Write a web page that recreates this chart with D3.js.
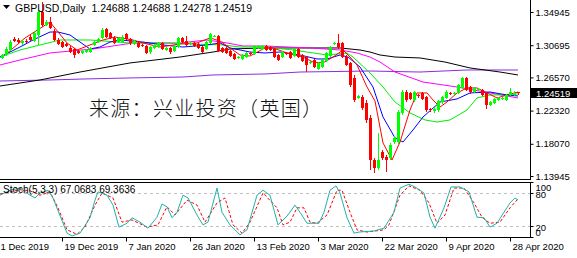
<!DOCTYPE html>
<html>
<head>
<meta charset="utf-8">
<script src="https://cdn.jsdelivr.net/npm/d3@7"></script>
<style>
body { margin: 0; background: #fff; }
svg { display: block; font-family: "Liberation Sans", Arial, sans-serif; }
</style>
</head>
<body>
<div id="chart"></div>
<script>
// GBPUSD daily candles, bar 1..130
var opens = [
1.2906,1.2944,1.3008,1.3149,1.3136,1.3098,1.3123,1.3174,1.3123,1.3200,
1.3494,1.3328,1.3366,1.3251,1.3136,1.3110,1.3085,1.3034,1.3021,1.2995,
1.2970,1.2982,1.2982,1.3072,1.3110,1.3162,1.3277,1.3226,1.3162,1.3110,
1.3110,1.3213,1.3149,1.3085,1.3098,1.3072,1.3059,1.2982,1.3034,1.3046,
1.3098,1.3008,1.3034,1.2995,1.3046,1.3162,1.3123,1.3085,1.3098,1.3085,
1.3046,1.3021,1.3098,1.3174,1.3187,1.3034,1.3034,1.2995,1.2957,1.2906,
1.2893,1.2918,1.2970,1.2957,1.3034,1.3021,1.3059,1.3046,1.3021,1.2944,
1.2918,1.2970,1.2982,1.2931,1.3021,1.2944,1.2918,1.2842,1.2880,1.2765,
1.2790,1.2867,1.2931,1.3085,1.3098,1.3098,1.2918,1.2842,1.2650,1.2394,
1.2406,1.2330,1.2138,1.1600,1.1498,1.1702,1.1638,1.1626,1.1830,1.1830,
1.2202,1.2470,1.2458,1.2368,1.2432,1.2458,1.2406,1.2253,1.2227,1.2240,
1.2342,1.2394,1.2458,1.2445,1.2458,1.2522,1.2650,1.2534,1.2470,1.2496,
1.2496,1.2458,1.2304,1.2330,1.2368,1.2381,1.2368,1.2432,1.2432,1.24688];
var highs = [
1.2957,1.3046,1.3136,1.3174,1.3162,1.3136,1.3149,1.3200,1.3251,1.3520,
1.3622,1.3392,1.3430,1.3277,1.3162,1.3123,1.3098,1.3059,1.3034,1.3008,
1.3008,1.3021,1.3046,1.3123,1.3162,1.3290,1.3290,1.3238,1.3187,1.3174,
1.3200,1.3226,1.3162,1.3136,1.3110,1.3085,1.3072,1.3059,1.3085,1.3110,
1.3110,1.3046,1.3046,1.3072,1.3174,1.3174,1.3187,1.3110,1.3110,1.3098,
1.3059,1.3123,1.3226,1.3200,1.3200,1.3046,1.3046,1.3008,1.2970,1.2931,
1.2957,1.2982,1.2982,1.3072,1.3072,1.3072,1.3072,1.3059,1.3034,1.2957,
1.2995,1.2982,1.2995,1.3034,1.3034,1.2957,1.2931,1.2867,1.2893,1.2854,
1.2893,1.2982,1.3059,1.3110,1.3213,1.3110,1.2944,1.2854,1.2688,1.2432,
1.2432,1.2368,1.2176,1.1626,1.1946,1.1728,1.1664,1.1818,1.1907,1.2240,
1.2496,1.2496,1.2470,1.2483,1.2445,1.2470,1.2419,1.2266,1.2278,1.2368,
1.2419,1.2496,1.2470,1.2470,1.2573,1.2662,1.2662,1.2547,1.2534,1.2522,
1.2509,1.2470,1.2355,1.2394,1.2406,1.2406,1.2445,1.2522,1.2483,1.24688];
var lows = [
1.2893,1.2931,1.2995,1.3110,1.3085,1.3072,1.3098,1.3123,1.3110,1.3072,
1.3302,1.3315,1.3277,1.3123,1.3072,1.3034,1.3046,1.2970,1.2906,1.2957,
1.2957,1.2970,1.2970,1.3059,1.3098,1.3149,1.3162,1.3149,1.3085,1.3098,
1.3098,1.3136,1.3072,1.3072,1.3034,1.3046,1.2957,1.2957,1.3021,1.3034,
1.3008,1.2995,1.2957,1.2982,1.3034,1.3098,1.3059,1.3072,1.3046,1.3021,
1.2970,1.3008,1.3085,1.3168,1.2982,1.2970,1.2957,1.2918,1.2880,1.2893,
1.2880,1.2906,1.2944,1.2944,1.3021,1.3008,1.2995,1.2995,1.2906,1.2867,
1.2906,1.2944,1.2893,1.2918,1.2906,1.2854,1.2726,1.2829,1.2778,1.2752,
1.2778,1.2854,1.2918,1.3072,1.3021,1.2906,1.2803,1.2534,1.2342,1.2381,
1.2240,1.2074,1.1472,1.1434,1.1472,1.1600,1.1446,1.1600,1.1805,1.1805,
1.2176,1.2342,1.2368,1.2342,1.2394,1.2368,1.2214,1.2214,1.2202,1.2214,
1.2317,1.2381,1.2432,1.2432,1.2445,1.2509,1.2483,1.2445,1.2458,1.2483,
1.2419,1.2253,1.2291,1.2317,1.2355,1.2368,1.2355,1.2419,1.2419,1.24278];
var closes = [
1.2944,1.3021,1.3110,1.3123,1.3110,1.3123,1.3110,1.3136,1.3226,1.3494,
1.3328,1.3366,1.3290,1.3136,1.3085,1.3046,1.3059,1.2982,1.2944,1.2970,
1.2995,1.3008,1.3034,1.3110,1.3149,1.3264,1.3174,1.3162,1.3098,1.3162,
1.3174,1.3149,1.3098,1.3123,1.3046,1.3059,1.2970,1.3046,1.3072,1.3098,
1.3021,1.3034,1.2982,1.3059,1.3162,1.3110,1.3072,1.3098,1.3059,1.3034,
1.2982,1.3110,1.3213,1.3187,1.2995,1.2982,1.2970,1.2931,1.2893,1.2918,
1.2944,1.2970,1.2957,1.3059,1.3059,1.3059,1.3008,1.3008,1.2918,1.2880,
1.2982,1.2957,1.2906,1.3021,1.2918,1.2867,1.2816,1.2854,1.2790,1.2842,
1.2880,1.2970,1.3046,1.3098,1.3046,1.2918,1.2816,1.2560,1.2368,1.2419,
1.2266,1.2112,1.1600,1.1498,1.1600,1.1626,1.1600,1.1792,1.1882,1.2214,
1.2470,1.2368,1.2381,1.2470,1.2419,1.2381,1.2240,1.2240,1.2253,1.2355,
1.2406,1.2470,1.2445,1.2458,1.2560,1.2650,1.2496,1.2470,1.2522,1.2509,
1.2432,1.2304,1.2342,1.2381,1.2394,1.2394,1.2432,1.2470,1.2458,1.24519];

// moving averages, [bar, price]
var maRed = [[1.75,1.2944],[6.75,1.3162],[13,1.3366],[17.25,1.3098],[19.75,1.3008],[26.25,1.3136],[29.25,1.3174],[33.75,1.3136],[36.25,1.3098],[40.5,1.3046],[45.5,1.3085],[49.75,1.3098],[53,1.3162],[55.5,1.3123],[58,1.3034],[60.5,1.2944],[63,1.2931],[66.75,1.3034],[68.75,1.3034],[72.25,1.2970],[76.25,1.2918],[78.75,1.2854],[81.25,1.2842],[83.75,1.2918],[86.25,1.3008],[88,1.2918],[89.75,1.2816],[92.25,1.2534],[94.25,1.2355],[96.25,1.1818],[98.5,1.1600],[100.5,1.1830],[103,1.2240],[104.75,1.2458],[107.25,1.2458],[108.75,1.2368],[110.5,1.2278],[112.25,1.2342],[114.75,1.2458],[117.25,1.2522],[119.75,1.2522],[122.25,1.2458],[124.75,1.2394],[127.25,1.2432],[130,1.2470]];
var maBlue = [[0.5,1.2918],[5.5,1.3046],[8.75,1.3136],[13,1.3238],[15,1.3238],[18,1.3200],[20.5,1.3110],[23,1.3021],[25.5,1.3046],[28,1.3110],[30.5,1.3136],[36.25,1.3110],[41.25,1.3072],[46.25,1.3046],[52.25,1.3072],[55.5,1.3098],[58,1.3034],[60.5,1.3008],[63,1.2982],[66.75,1.2970],[70.5,1.2982],[75.5,1.2944],[79.75,1.2893],[82.25,1.2893],[85.5,1.2944],[87.5,1.2918],[90.5,1.2790],[93.75,1.2534],[96.25,1.2150],[99.25,1.1882],[101.25,1.1830],[103.75,1.1984],[106.25,1.2150],[110.5,1.2342],[114.75,1.2381],[118,1.2458],[123,1.2470],[127.25,1.2432],[130,1.2419]];
var maGreen = [[0.5,1.2918],[5.5,1.3008],[10.5,1.3072],[15.5,1.3136],[23,1.3136],[33,1.3098],[40.5,1.3098],[48,1.3085],[56.25,1.3072],[60.5,1.3046],[66.75,1.3046],[73.75,1.3008],[82.25,1.2944],[87.25,1.2970],[88.75,1.2918],[93,1.2714],[96.25,1.2534],[99.25,1.2342],[103,1.2202],[106.75,1.2112],[109.75,1.2086],[113,1.2112],[117.25,1.2240],[119.75,1.2394],[123,1.2432],[126.25,1.2432],[130,1.2445]];
var maMagenta = [[0.5,1.2816],[5.5,1.2880],[13,1.2970],[23.75,1.3021],[33.75,1.3098],[45.5,1.3098],[52.25,1.3136],[57.25,1.3098],[61.25,1.3059],[66.75,1.3059],[78,1.3034],[85.5,1.3008],[89.75,1.2970],[93,1.2918],[95.5,1.2854],[99.25,1.2726],[106.25,1.2598],[114.75,1.2534],[123,1.2458],[130,1.2394]];
var maBlack = [[0.5,1.2547],[10.5,1.2624],[20.5,1.2726],[33,1.2842],[45.5,1.2918],[53.75,1.2982],[58,1.3021],[66.75,1.3034],[75.5,1.3034],[85.5,1.3034],[90.5,1.3008],[93,1.2982],[95.5,1.2944],[99.25,1.2918],[105.5,1.2906],[111.75,1.2854],[118,1.2778],[125.5,1.2726],[130,1.2688]];
var maPurple = [[0.5,1.2611],[13,1.2624],[21.75,1.2637],[33,1.2650],[46.25,1.2662],[53.75,1.2688],[66.75,1.2701],[75.5,1.2726],[93,1.2739],[105.5,1.2726],[117.25,1.2752],[130,1.2752]];

// stochastic (5,3,3), [bar, value]
var stochK = [[0.5,76],[3,85],[5.5,89],[8,76],[9.25,71],[10.5,80],[12.5,85],[13.75,71],[17.25,7],[18.5,2],[20.5,7],[23,35],[24.25,67],[25,82],[27.25,76],[28.75,58],[30.25,18],[32.25,25],[33.5,35],[35.5,27],[37.5,16],[39.75,36],[41,60],[42.25,55],[43.5,35],[44.75,45],[46.25,76],[47.5,71],[49.75,40],[51.25,22],[52.5,27],[54.75,89],[56,45],[58,22],[60.5,4],[62.25,13],[64.75,76],[66.25,85],[68,76],[70,22],[72.25,38],[74.25,58],[75.5,45],[77.25,25],[80.25,25],[81.5,45],[83,85],[84.5,93],[85.5,80],[87.25,35],[89,7],[90.25,9],[94,11],[96.5,16],[99,45],[100.5,89],[102.75,96],[104.25,91],[106.5,80],[108,36],[109.25,16],[111.5,53],[113.25,91],[115.5,91],[117.75,82],[119.75,36],[121.5,35],[123,18],[124.75,25],[128,62],[129.25,71],[130,67.07]];
var stochD = [[0.5,78],[5.5,86],[8,84],[10.5,76],[13,82],[15,53],[17.25,13],[19.75,5],[21.75,18],[24.25,58],[26,80],[28.75,71],[31,27],[33.5,31],[37.25,18],[40,22],[42.25,55],[44.25,40],[47.25,67],[49.75,58],[51.75,27],[54.75,62],[56.75,71],[58.75,22],[61,7],[63,27],[66.25,80],[69.75,53],[71.25,22],[73,27],[74.75,53],[76.5,53],[78,27],[79.75,25],[82.25,40],[84.75,85],[86,85],[88,45],[89.75,13],[92.25,9],[96.5,13],[97.75,22],[100.5,76],[102.75,93],[105.5,85],[107.75,62],[109.75,25],[111.75,40],[114,89],[116.5,89],[119,62],[121,36],[123,25],[125.5,27],[128,53],[130,69.36]];

// axis labels
var priceTicks = [1.34945, 1.30695, 1.26570, 1.22320, 1.18070, 1.13945];
var stochTicks = [100, 80, 20, 0];
var dateIdx = [0, 16, 32, 48, 64, 80, 96, 112, 128];
var dateLabels = ["1 Dec 2019","19 Dec 2019","7 Jan 2020","26 Jan 2020","13 Feb 2020","3 Mar 2020","22 Mar 2020","9 Apr 2020","28 Apr 2020"];
var header = "GBPUSD,Daily  1.24688 1.24688 1.24278 1.24519";
var stochTitle = "Stoch(5,3,3) 67.0683 69.3636";
var watermark = "来源：兴业投资（英国）";

//measurements
var width = 577, height = 258;
var plotRight = 530;
var mainTop = 0, mainBottom = 179;
var stochTop = 182, stochBottom = 237;
var axisFont = "9.5px";

var x = d3.scaleLinear().domain([0, 130]).range([-2, 518]);
var y = d3.scaleLinear().domain([1.13945, 1.34945]).range([176, 12]);
var ys = d3.scaleLinear().domain([0, 100]).range([stochBottom, stochTop]);

var svg = d3.select("#chart").append("svg")
    .attr("width", width)
    .attr("height", height);

svg.append("defs").append("clipPath").attr("id", "clipMain")
    .append("rect").attr("x", 0).attr("y", mainTop).attr("width", plotRight).attr("height", mainBottom - mainTop);
svg.select("defs").append("clipPath").attr("id", "clipStoch")
    .append("rect").attr("x", 0).attr("y", stochTop).attr("width", plotRight).attr("height", stochBottom - stochTop);

var main = svg.append("g").attr("clip-path", "url(#clipMain)");

// watermark
main.append("text")
    .attr("x", 89).attr("y", 116)
    .style("font-family", "'Noto Sans CJK SC', sans-serif")
    .style("font-size", "20px")
    .style("font-weight", 300)
    .style("letter-spacing", "1.3px")
    .attr("fill", "#111")
    .text(watermark);

// moving averages
var maLine = d3.line()
    .x(function(d) { return x(d[0]); })
    .y(function(d) { return y(d[1]); });
var maSets = [
    [maPurple, "#8a2be2"],
    [maBlack, "#000000"],
    [maMagenta, "#ff00ff"],
    [maGreen, "#00ee00"],
    [maBlue, "#0000ff"],
    [maRed, "#ff0000"]
];
maSets.forEach(function(s) {
    main.append("path")
        .datum(s[0])
        .attr("fill", "none")
        .attr("stroke", s[1])
        .attr("stroke-width", 1)
        .attr("d", maLine);
});

// candles
var bars = closes.map(function(c, i) {
    return { i: i + 1, o: opens[i], h: highs[i], l: lows[i], c: c };
});
var candle = main.selectAll(".candle")
    .data(bars)
    .enter().append("g")
    .attr("class", "candle")
    .attr("shape-rendering", "crispEdges");
candle.append("line")
    .attr("x1", function(d) { return Math.round(x(d.i)) + 0.5; })
    .attr("x2", function(d) { return Math.round(x(d.i)) + 0.5; })
    .attr("y1", function(d) { return y(d.h); })
    .attr("y2", function(d) { return y(d.l); })
    .attr("stroke", function(d) { return d.c >= d.o ? "#00ff00" : "#ff0000"; });
candle.append("rect")
    .attr("x", function(d) { return Math.round(x(d.i)) - 1; })
    .attr("width", 3)
    .attr("y", function(d) { return y(Math.max(d.o, d.c)); })
    .attr("height", function(d) { return Math.max(1, Math.abs(y(d.o) - y(d.c))); })
    .attr("fill", function(d) { return d.c >= d.o ? "#00ff00" : "#ff0000"; });

// header
svg.append("path")
    .attr("d", "M3,5 L10,5 L6.5,9 Z")
    .attr("fill", "#000");
svg.append("text")
    .attr("x", 15).attr("y", 12)
    .style("font-size", "10.5px")
    .style("white-space", "pre")
    .attr("xml:space", "preserve")
    .text(header);

// stochastic window
var stoch = svg.append("g").attr("clip-path", "url(#clipStoch)");
[80, 20].forEach(function(v) {
    stoch.append("line")
        .attr("x1", 0).attr("x2", plotRight)
        .attr("y1", Math.round(ys(v)) + 0.5).attr("y2", Math.round(ys(v)) + 0.5)
        .attr("stroke", "#c0c0c0")
        .attr("stroke-dasharray", "3,3");
});
var stLine = d3.line()
    .x(function(d) { return x(d[0]); })
    .y(function(d) { return ys(d[1]); });
stoch.append("path").datum(stochD)
    .attr("fill", "none").attr("stroke", "#ff0000")
    .attr("stroke-dasharray", "3,2")
    .attr("d", stLine);
stoch.append("path").datum(stochK)
    .attr("fill", "none").attr("stroke", "#20b2aa")
    .attr("d", stLine);
svg.append("text")
    .attr("x", 3).attr("y", 193)
    .style("font-size", "10px")
    .text(stochTitle);

// frame
var frame = svg.append("g").attr("stroke", "#000").attr("shape-rendering", "crispEdges");
frame.append("line").attr("x1", plotRight + 0.5).attr("x2", plotRight + 0.5).attr("y1", 0).attr("y2", mainBottom);
frame.append("line").attr("x1", plotRight + 0.5).attr("x2", plotRight + 0.5).attr("y1", stochTop).attr("y2", stochBottom + 1);
frame.append("line").attr("x1", 0).attr("x2", plotRight + 1).attr("y1", mainBottom + 0.5).attr("y2", mainBottom + 0.5);
frame.append("line").attr("x1", 0).attr("x2", plotRight + 1).attr("y1", stochTop + 0.5).attr("y2", stochTop + 0.5);
frame.append("line").attr("x1", 0).attr("x2", plotRight + 1).attr("y1", stochBottom + 0.5).attr("y2", stochBottom + 0.5);

// price axis
var yAxis = d3.axisRight(y)
    .tickValues(priceTicks)
    .tickFormat(d3.format(".5f"))
    .tickSize(3)
    .tickPadding(2)
    .tickSizeOuter(0);
var gy = svg.append("g")
    .attr("transform", "translate(" + (plotRight + 0.5) + ",0)")
    .call(yAxis);
gy.select(".domain").remove();
gy.selectAll("text").style("font-size", axisFont).style("font-family", "'Liberation Sans', Arial, sans-serif").attr("fill", "#000");

// current price tag
var last = closes[closes.length - 1];
svg.append("rect")
    .attr("x", plotRight + 1).attr("y", Math.round(y(last)) - 5)
    .attr("width", width - plotRight - 1).attr("height", 10)
    .attr("fill", "#000");
svg.append("text")
    .attr("x", plotRight + 6).attr("y", Math.round(y(last)) + 4)
    .style("font-size", axisFont)
    .attr("fill", "#fff")
    .text(d3.format(".5f")(last));

// stochastic axis (labels squeezed at the window edges as in the terminal)
var sAxis = d3.axisRight(ys)
    .tickValues(stochTicks)
    .tickSize(3)
    .tickPadding(2)
    .tickSizeOuter(0);
var gs = svg.append("g")
    .attr("transform", "translate(" + (plotRight + 0.5) + ",0)")
    .call(sAxis);
gs.select(".domain").remove();
gs.selectAll("text")
    .style("font-size", axisFont)
    .style("font-family", "'Liberation Sans', Arial, sans-serif")
    .attr("fill", "#000")
    .attr("y", function(d) { return d == 100 ? 5 : (d == 0 ? -5 : 1); });

// time axis
var xAxis = d3.axisBottom(x)
    .tickValues(dateIdx)
    .tickFormat(function(d, i) { return dateLabels[i]; })
    .tickSize(4)
    .tickPadding(2)
    .tickSizeOuter(0);
var gx = svg.append("g")
    .attr("transform", "translate(0," + (stochBottom + 0.5) + ")")
    .call(xAxis);
gx.select(".domain").remove();
gx.selectAll("text")
    .style("font-size", axisFont)
    .style("font-family", "'Liberation Sans', Arial, sans-serif")
    .attr("fill", "#000")
    .attr("text-anchor", "start")
    .attr("x", 2);
</script>
</body>
</html>
